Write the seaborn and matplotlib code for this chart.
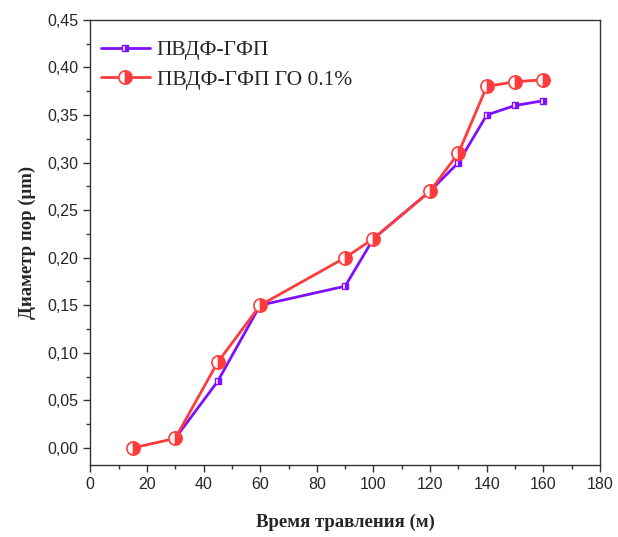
import matplotlib
matplotlib.use("Agg")
import matplotlib.pyplot as plt
import seaborn as sns
import pandas as pd
from matplotlib.ticker import MultipleLocator, FuncFormatter

x_a = [30, 45, 60, 90, 100, 120, 130, 140, 150, 160]
y_a = [0.01, 0.07, 0.15, 0.17, 0.22, 0.27, 0.30, 0.35, 0.36, 0.365]
x_b = [15, 30, 45, 60, 90, 100, 120, 130, 140, 150, 160]
y_b = [0.0, 0.01, 0.09, 0.15, 0.20, 0.22, 0.27, 0.31, 0.38, 0.385, 0.387]
label_a = "ПВДФ-ГФП"
label_b = "ПВДФ-ГФП ГО 0.1%"

sns.set_style("ticks")
plt.rcParams['font.family'] = ['Liberation Sans', 'DejaVu Sans']

fig = plt.figure(figsize=(6.18, 5.37), dpi=100)
ax = fig.add_axes([0.146, 0.134, 0.825, 0.829])

df_a = pd.DataFrame({"x": x_a, "y": y_a})
df_b = pd.DataFrame({"x": x_b, "y": y_b})
c_a = "#7F10FF"
c_b = "#FF3B3B"
sns.lineplot(data=df_a, x="x", y="y", ax=ax, color=c_a, lw=2, marker="s",
             markersize=4.8, fillstyle="right", markerfacecoloralt="white",
             markeredgecolor=c_a, markeredgewidth=1, label=label_a)
sns.lineplot(data=df_b, x="x", y="y", ax=ax, color=c_b, lw=2, marker="o",
             markersize=9.5, fillstyle="right", markerfacecoloralt="white",
             markeredgecolor=c_b, markeredgewidth=1.2, label=label_b)

ax.set_xlim(0, 180)
ax.set_ylim(-0.018, 0.45)
ax.xaxis.set_major_locator(MultipleLocator(20))
ax.xaxis.set_minor_locator(MultipleLocator(10))
ax.yaxis.set_major_locator(MultipleLocator(0.05))
ax.yaxis.set_minor_locator(MultipleLocator(0.025))
ax.yaxis.set_major_formatter(FuncFormatter(lambda v, p: f"{v:.2f}".replace(".", ",")))
ax.tick_params(which="major", direction="out", length=5, width=1, labelsize=11.5, color="#333333")
ax.tick_params(which="minor", direction="out", length=3, width=1, color="#333333")
for s in ax.spines.values():
    s.set_color("#333333")
    s.set_linewidth(1)

ax.set_xlabel("Время травления (м)", family=["Liberation Serif"], fontweight="bold", fontsize=13.5, labelpad=16)
ax.set_ylabel("Диаметр пор (μm)", family=["Liberation Serif"], fontweight="bold", fontsize=13.5, labelpad=8)

leg = ax.legend(loc="upper left", bbox_to_anchor=(0.012, 0.964), frameon=False,
                prop={"family": "Liberation Serif", "size": 15.5},
                handlelength=2.3, borderaxespad=0.0, labelspacing=0.45, handletextpad=0.3,
                borderpad=0.2)

fig.savefig("out.png", dpi=100)
